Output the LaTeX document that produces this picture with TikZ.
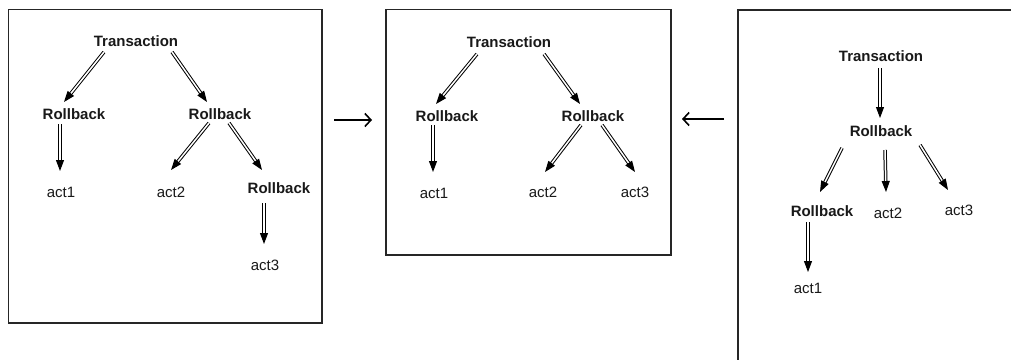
\documentclass[tikz,border=0pt]{standalone}
\usepackage{fontspec}
\setmainfont{Liberation Sans}
\usetikzlibrary{arrows.meta,calc}
\begin{document}
\begin{tikzpicture}[x=1pt,y=-1pt,
  lbl/.style={inner sep=0pt,font=\fontsize{15}{17}\selectfont,text=black!90},
  blbl/.style={lbl,font=\fontsize{15}{17}\selectfont\bfseries},
  frame/.style={draw=black!85,line width=1.3pt},
  dbl/.style={draw=black,double=white,line width=1pt,double distance=1.5pt,-{Triangle[length=11pt,width=8pt]}},
  thin/.style={draw=black,line width=1.6pt,-{Straight Barb[length=6pt,width=13pt]}}]
\useasboundingbox (0,0) rectangle (1011,359);
\fill[white] (0,0) rectangle (1011,359);
% frames
\draw[frame] (8.5,9.5) rectangle (322,323);
\draw[frame] (386,9.5) rectangle (671,255);
\draw[frame] (1012,10) -- (738,10) -- (738,360);
% box 1
\node[blbl] (T1) at (136,41) {Transaction};
\node[blbl] (RL1) at (74,114) {Rollback};
\node[blbl] (RR1) at (220,114) {Rollback};
\node[lbl] (A11) at (61,192) {act1};
\node[lbl] (A12) at (171,192) {act2};
\node[blbl] (R13) at (279,188) {Rollback};
\node[lbl] (A13) at (265,265) {act3};
\draw[dbl] ($(T1)+(-32,11)$) -- ($(RL1)+(-10,-12)$);
\draw[dbl] ($(T1)+(36,11)$) -- ($(RR1)+(-13,-12)$);
\draw[dbl] ($(RL1)+(-14,10)$) -- ($(A11)+(-1,-21)$);
\draw[dbl] ($(RR1)+(-11,9)$) -- ($(A12)+(0,-22)$);
\draw[dbl] ($(RR1)+(9,9)$) -- ($(R13)+(-17,-18)$);
\draw[dbl] ($(R13)+(-15,15)$) -- ($(A13)+(-1,-21)$);
% box 2
\node[blbl] (T2) at (509,42) {Transaction};
\node[blbl] (RL2) at (447,116) {Rollback};
\node[blbl] (RR2) at (593,116) {Rollback};
\node[lbl] (A21) at (434,193) {act1};
\node[lbl] (A22) at (543,192) {act2};
\node[lbl] (A23) at (635,192) {act3};
\draw[dbl] ($(T2)+(-32,12)$) -- ($(RL2)+(-11,-12)$);
\draw[dbl] ($(T2)+(35,12)$) -- ($(RR2)+(-13,-12)$);
\draw[dbl] ($(RL2)+(-14,9)$) -- ($(A21)+(-1,-21)$);
\draw[dbl] ($(RR2)+(-12,9)$) -- ($(A22)+(2,-20)$);
\draw[dbl] ($(RR2)+(9,9)$) -- ($(A23)+(0,-20)$);
% box 3
\node[blbl] (T3) at (881,56) {Transaction};
\node[blbl] (R3) at (881,131) {Rollback};
\node[blbl] (RB3) at (822,211) {Rollback};
\node[lbl] (A32) at (888,213) {act2};
\node[lbl] (A33) at (959,210) {act3};
\node[lbl] (A31) at (808,288) {act1};
\draw[dbl] ($(T3)+(-1,12)$) -- ($(R3)+(-1,-13)$);
\draw[dbl] ($(R3)+(-39,17)$) -- ($(RB3)+(-2,-19)$);
\draw[dbl] ($(R3)+(4,19)$) -- ($(A32)+(-2,-21)$);
\draw[dbl] ($(R3)+(39,14)$) -- ($(A33)+(-11,-20)$);
\draw[dbl] ($(RB3)+(-14,11)$) -- ($(A31)+(0,-16)$);
% between frames
\coordinate (m1a) at (334,120);
\coordinate (m1b) at (372,120);
\coordinate (m2a) at (724,119);
\coordinate (m2b) at (682,119);
\draw[thin] (m1a) -- (m1b);
\draw[thin] (m2a) -- (m2b);
\end{tikzpicture}
\end{document}
